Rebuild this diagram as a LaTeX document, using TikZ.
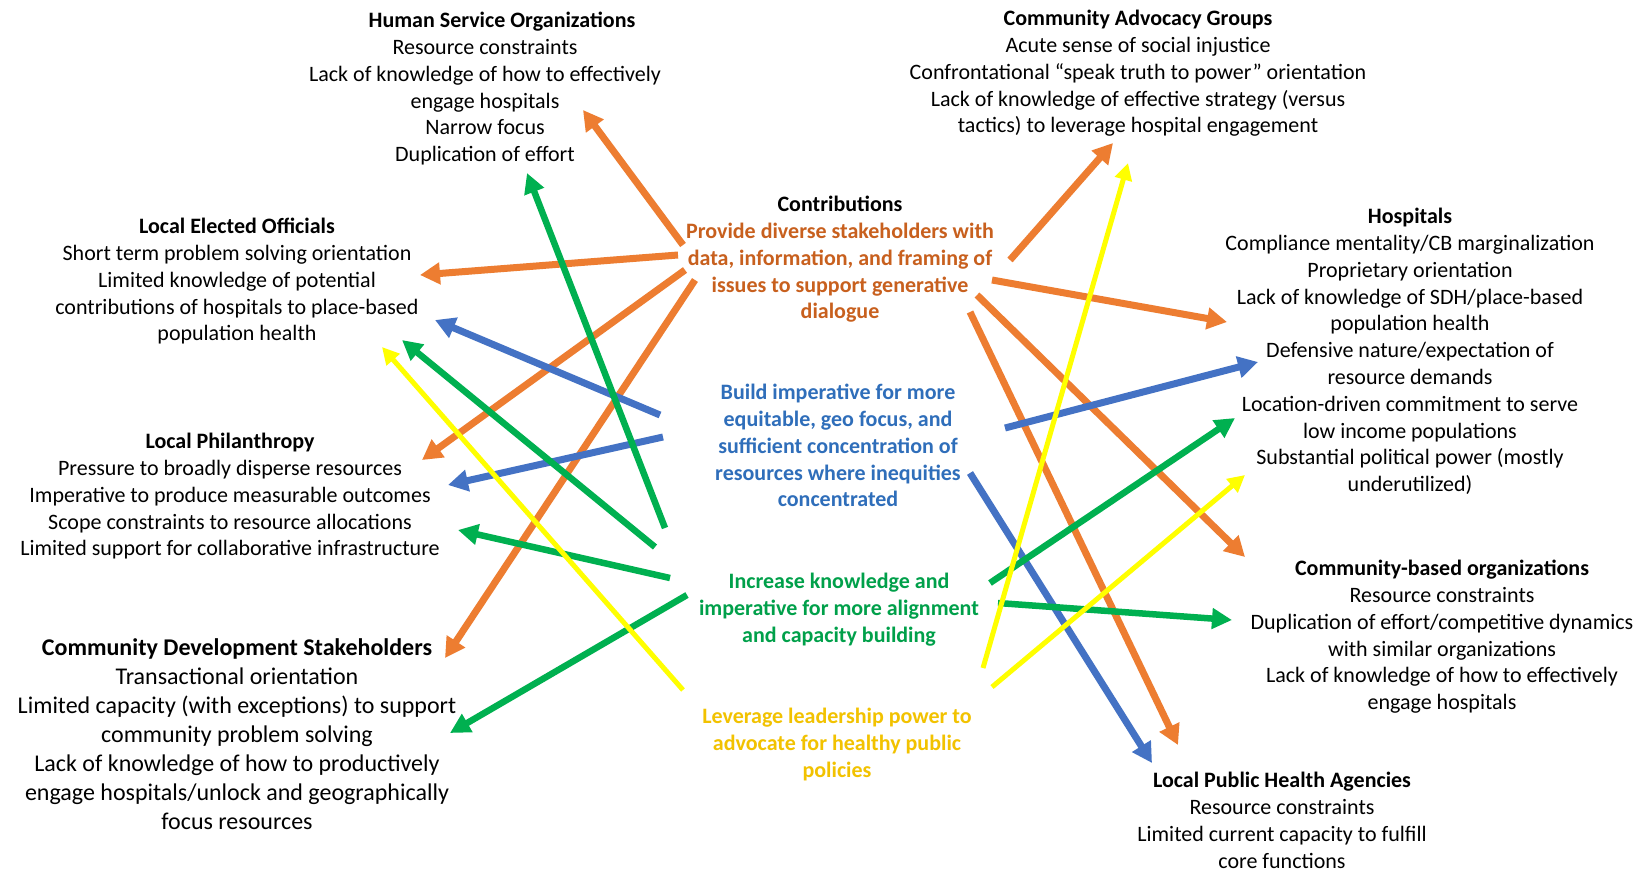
\documentclass[tikz,border=0pt]{standalone}
\usepackage{fontspec}
\setmainfont{Carlito}
\usetikzlibrary{arrows.meta}

\definecolor{arrorange}{HTML}{ED7D31}
\definecolor{arrblue}{HTML}{4472C4}
\definecolor{arrgreen}{HTML}{00B050}
\definecolor{arryellow}{HTML}{FFFF00}
\definecolor{txtorange}{HTML}{C8601E}
\definecolor{txtblue}{HTML}{2F6EBA}
\definecolor{txtgreen}{HTML}{00A04A}
\definecolor{txtyellow}{HTML}{F2C200}

\tikzset{
	group/.style={align=center, anchor=north, inner sep=0pt, font=\fontsize{22}{26.8}\selectfont},
	orangearrow/.style={draw=arrorange, line width=7pt, -{Triangle[length=20pt,width=21pt]}},
	bluearrow/.style={draw=arrblue, line width=7pt, -{Triangle[length=20pt,width=21pt]}},
	greenarrow/.style={draw=arrgreen, line width=6.5pt, -{Triangle[length=20pt,width=20pt]}},
	yellowarrow/.style={draw=arryellow, line width=5pt, -{Triangle[length=17pt,width=17pt]}}
}

\begin{document}
\begin{tikzpicture}[x=1pt, y=-1pt]
		\useasboundingbox[fill=white] (0,0) rectangle (1638,873);

		% stakeholder groups
		\node[group] (hso) at (485,12) {\hspace*{34pt}\textbf{Human Service Organizations}\\Resource constraints\\Lack of knowledge of how to effectively\\engage hospitals\\Narrow focus\\Duplication of effort};
		\node[group] (cag) at (1138,10) {\textbf{Community Advocacy Groups}\\Acute sense of social injustice\\Confrontational “speak truth to power” orientation\\Lack of knowledge of effective strategy (versus\\tactics) to leverage hospital engagement};
		\node[group] (leo) at (237,218) {\textbf{Local Elected Officials}\\Short term problem solving orientation\\Limited knowledge of potential\\contributions of hospitals to place-based\\population health};
		\node[group] (phil) at (230,433) {\textbf{Local Philanthropy}\\Pressure to broadly disperse resources\\Imperative to produce measurable outcomes\\Scope constraints to resource allocations\\Limited support for collaborative infrastructure};
		\node[group, font=\fontsize{24}{29}\selectfont] (cds) at (237,638) {\textbf{Community Development Stakeholders}\\Transactional orientation\\Limited capacity (with exceptions) to support\\community problem solving\\Lack of knowledge of how to productively\\engage hospitals/unlock and geographically\\focus resources};
		\node[group] (hosp) at (1410,208) {\textbf{Hospitals}\\Compliance mentality/CB marginalization\\Proprietary orientation\\Lack of knowledge of SDH/place-based\\population health\\Defensive nature/expectation of\\resource demands\\Location-driven commitment to serve\\low income populations\\Substantial political power (mostly\\underutilized)};
		\node[group] (cbo) at (1442,560) {\textbf{Community-based organizations}\\Resource constraints\\Duplication of effort/competitive dynamics\\with similar organizations\\Lack of knowledge of how to effectively\\engage hospitals};
		\node[group] (lpha) at (1282,772) {\textbf{Local Public Health Agencies}\\Resource constraints\\Limited current capacity to fulfill\\core functions};

		% contributions
		\node[group] (contrib) at (840,196) {\textbf{Contributions}\\\color{txtorange}\bfseries Provide diverse stakeholders with\\\color{txtorange}\bfseries data, information, and framing of\\\color{txtorange}\bfseries issues to support generative\\\color{txtorange}\bfseries dialogue};
		\node[group, text=txtblue, font=\fontsize{22}{26.8}\selectfont\bfseries] (equity) at (838,384) {Build imperative for more\\equitable, geo focus, and\\sufficient concentration of\\resources where inequities\\concentrated};
		\node[group, text=txtgreen, font=\fontsize{22}{26.8}\selectfont\bfseries] (capacity) at (839,573) {Increase knowledge and\\imperative for more alignment\\and capacity building};
		\node[group, text=txtyellow, font=\fontsize{22}{26.8}\selectfont\bfseries] (policy) at (837,708) {Leverage leadership power to\\advocate for healthy public\\policies};

		% arrow ends
		\coordinate (data-1) at (683,245);
		\coordinate (data-2) at (678,255);
		\coordinate (data-3) at (685,270);
		\coordinate (data-4) at (695,280);
		\coordinate (data-5) at (1010,260);
		\coordinate (data-6) at (992,280);
		\coordinate (data-7) at (977,295);
		\coordinate (data-8) at (970,312);
		\coordinate (equity-1) at (660,415);
		\coordinate (equity-2) at (663,437);
		\coordinate (equity-3) at (1005,428);
		\coordinate (equity-4) at (970,473);
		\coordinate (capacity-1) at (665,528);
		\coordinate (capacity-2) at (655,547);
		\coordinate (capacity-3) at (670,578);
		\coordinate (capacity-4) at (687,595);
		\coordinate (capacity-5) at (990,583);
		\coordinate (capacity-6) at (998,603);
		\coordinate (policy-1) at (683,690);
		\coordinate (policy-2) at (983,668);
		\coordinate (policy-3) at (992,687);

		\coordinate (hso-o) at (583,110);
		\coordinate (hso-g) at (527,173);
		\coordinate (cag-o) at (1113,143);
		\coordinate (cag-y) at (1128,163);
		\coordinate (leo-o) at (420,275);
		\coordinate (leo-b) at (435,320);
		\coordinate (leo-g) at (402,340);
		\coordinate (leo-y) at (382,347);
		\coordinate (phil-o) at (422,460);
		\coordinate (phil-b) at (448,485);
		\coordinate (phil-g) at (458,530);
		\coordinate (cds-o) at (445,658);
		\coordinate (cds-g) at (450,733);
		\coordinate (hosp-o) at (1227,322);
		\coordinate (hosp-b) at (1258,362);
		\coordinate (hosp-g) at (1235,418);
		\coordinate (hosp-y) at (1245,475);
		\coordinate (cbo-o) at (1245,557);
		\coordinate (cbo-g) at (1232,620);
		\coordinate (lpha-o) at (1178,745);
		\coordinate (lpha-b) at (1152,763);

		% arrows
		\draw[orangearrow] (data-1) -- (hso-o);
		\draw[orangearrow] (data-2) -- (leo-o);
		\draw[orangearrow] (data-3) -- (phil-o);
		\draw[orangearrow] (data-4) -- (cds-o);
		\draw[orangearrow] (data-5) -- (cag-o);
		\draw[orangearrow] (data-6) -- (hosp-o);
		\draw[orangearrow] (data-7) -- (cbo-o);
		\draw[orangearrow] (data-8) -- (lpha-o);

		\draw[bluearrow] (equity-1) -- (leo-b);
		\draw[bluearrow] (equity-2) -- (phil-b);
		\draw[bluearrow] (equity-3) -- (hosp-b);
		\draw[bluearrow] (equity-4) -- (lpha-b);

		\draw[greenarrow] (capacity-1) -- (hso-g);
		\draw[greenarrow] (capacity-2) -- (leo-g);
		\draw[greenarrow] (capacity-3) -- (phil-g);
		\draw[greenarrow] (capacity-4) -- (cds-g);
		\draw[greenarrow] (capacity-5) -- (hosp-g);
		\draw[greenarrow] (capacity-6) -- (cbo-g);

		\draw[yellowarrow] (policy-1) -- (leo-y);
		\draw[yellowarrow] (policy-2) -- (cag-y);
		\draw[yellowarrow] (policy-3) -- (hosp-y);
	\end{tikzpicture}
\end{document}
